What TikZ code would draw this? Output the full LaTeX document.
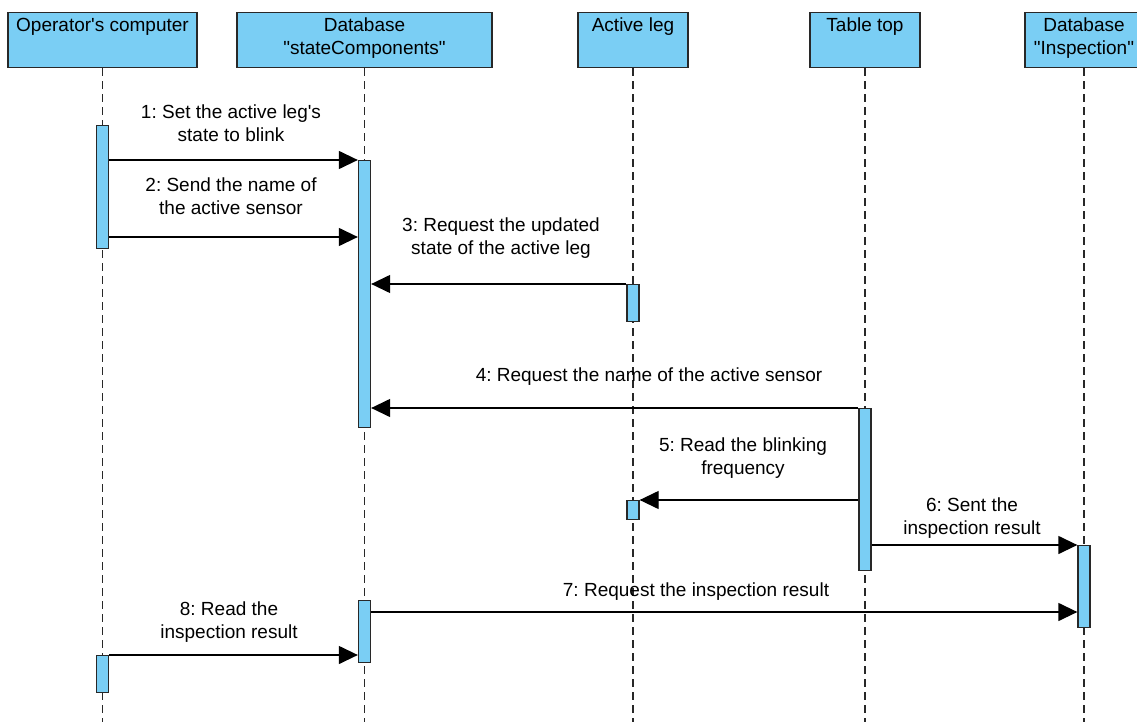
\documentclass[tikz,border=0pt]{standalone}
\usepackage{fontspec}
\setmainfont{Liberation Sans}
\usetikzlibrary{arrows.meta}
\definecolor{lifefill}{RGB}{122,206,244}
\definecolor{edge}{RGB}{40,40,40}
\frenchspacing
\begin{document}
\begin{tikzpicture}[x=1pt,y=-1pt,
  font=\fontsize{19}{23}\selectfont,
  header/.style={draw=edge, line width=1.3pt, fill=lifefill, minimum height=55pt, anchor=north, inner sep=0pt},
  headtext/.style={align=center, anchor=north, inner sep=0pt},
  bar/.style={draw=edge, line width=1.3pt, fill=lifefill, minimum width=12pt, anchor=north, inner sep=0pt},
  life/.style={draw=edge, line width=1.2pt, dash pattern=on 8pt off 5pt},
  msg/.style={draw=black, line width=1.3pt, -{Triangle[length=19pt,width=18pt]}},
  msgtext/.style={align=center, anchor=north, inner sep=0pt}]
\useasboundingbox (0,0) rectangle (1137,722);

% participants
\node[header, minimum width=189pt] (op)  at (102.5,12) {};
\node[header, minimum width=255pt] (sc)  at (364.5,12) {};
\node[header, minimum width=110pt] (al)  at (633,12) {};
\node[header, minimum width=110pt] (tt)  at (865,12) {};
\node[header, minimum width=118pt] (ins) at (1084,12) {};

\node[headtext] (opT)  at ([yshift=-6pt]op.north)  {Operator\textquotesingle s computer};
\node[headtext] (scT)  at ([yshift=-6pt]sc.north)  {Database\\\textquotedbl stateComponents\textquotedbl};
\node[headtext] (alT)  at ([yshift=-6pt]al.north)  {Active leg};
\node[headtext] (ttT)  at ([yshift=-6pt]tt.north)  {Table top};
\node[headtext] (insT) at ([yshift=-6pt]ins.north) {Database\\\textquotedbl Inspection\textquotedbl};

% lifelines
\foreach \p in {op,sc,al,tt,ins}
  \draw[life] (\p.south) -- (\p.south |- 0,722);

% activation bars
\node[bar, minimum height=123pt] (op1)  at (op.south |- 0,125) {};
\node[bar, minimum height=267pt] (sc1)  at (sc.south |- 0,160) {};
\node[bar, minimum height=37pt]  (al1)  at (al.south |- 0,284) {};
\node[bar, minimum height=162pt] (tt1)  at (tt.south |- 0,408) {};
\node[bar, minimum height=19pt]  (al2)  at (al.south |- 0,500) {};
\node[bar, minimum height=82pt]  (ins1) at (ins.south |- 0,545) {};
\node[bar, minimum height=62pt]  (sc2)  at (sc.south |- 0,600) {};
\node[bar, minimum height=37pt]  (op2)  at (op.south |- 0,655) {};

% messages
\draw[msg] (op1.east |- 0,160) -- (sc1.west |- 0,160);
\draw[msg] (op1.east |- 0,237) -- (sc1.west |- 0,237);
\draw[msg] (al1.west |- 0,284) -- (sc1.east |- 0,284);
\draw[msg] (tt1.west |- 0,408) -- (sc1.east |- 0,408);
\draw[msg] (tt1.west |- 0,500) -- (al2.east |- 0,500);
\draw[msg] (tt1.east |- 0,545) -- (ins1.west |- 0,545);
\draw[msg] (sc2.east |- 0,612) -- (ins1.west |- 0,612);
\draw[msg] (op2.east |- 0,655) -- (sc2.west |- 0,655);

% message labels (placed by the top of their first line)
\node[msgtext] (m1) at (231,105) {1: Set the active leg\textquotesingle s\\state to blink};
\node[msgtext] (m2) at (231,178) {2: Send the name of\\the active sensor};
\node[msgtext] (m3) at (501,218) {3: Request the updated\\state of the active leg};
\node[msgtext] (m4) at (649,368) {4: Request the name of the active sensor};
\node[msgtext] (m5) at (743,438) {5: Read the blinking\\frequency};
\node[msgtext] (m6) at (972,498) {6: Sent the\\inspection result};
\node[msgtext] (m7) at (696,583) {7: Request the inspection result};
\node[msgtext] (m8) at (229,602) {8: Read the\\inspection result};
\end{tikzpicture}
\end{document}
